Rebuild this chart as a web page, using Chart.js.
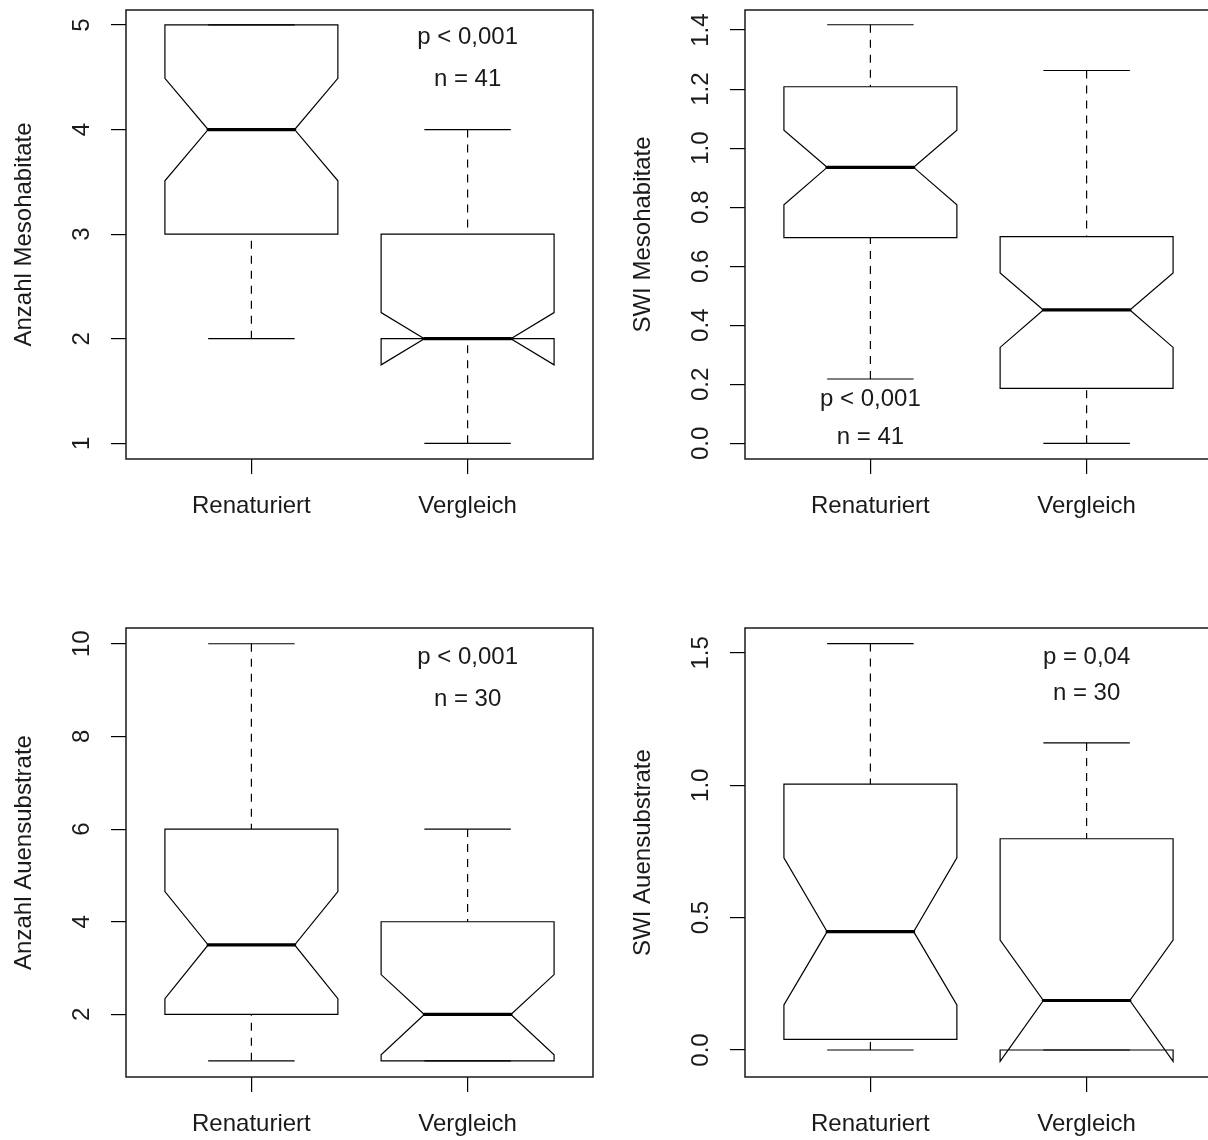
<!DOCTYPE html>
<html>
<head>
<meta charset="utf-8">
<title>Mesohabitate und Auensubstrate</title>
<script src="https://cdn.jsdelivr.net/npm/chart.js@4.4.1/dist/chart.umd.min.js"></script>
<style>
  html, body { margin: 0; padding: 0; background: #fff; width: 1208px; height: 1140px; overflow: hidden; }
  canvas.panel { position: absolute; }
</style>
</head>
<body>
<canvas id="meso-count" class="panel" width="604" height="570" style="left:0;top:0"></canvas>
<canvas id="meso-swi" class="panel" width="604" height="570" style="left:619px;top:0"></canvas>
<canvas id="substrate-count" class="panel" width="604" height="570" style="left:0;top:618px"></canvas>
<canvas id="substrate-swi" class="panel" width="604" height="570" style="left:619px;top:618px"></canvas>
<script>
// Groups on the x axis
const groups = ['Renaturiert', 'Vergleich'];

// Per group: [lower whisker, Q1, lower notch, median, upper notch, Q3, upper whisker]
const mesoCountRen = [2, 3, 3.51, 4, 4.49, 5, 5];
const mesoCountVgl = [1, 2, 1.75, 2, 2.25, 3, 4];
const mesoSwiRen = [0.218, 0.697, 0.808, 0.935, 1.061, 1.208, 1.418];
const mesoSwiVgl = [0, 0.186, 0.325, 0.452, 0.577, 0.700, 1.263];
const substrateCountRen = [1, 2, 2.34, 3.5, 4.65, 6, 10];
const substrateCountVgl = [1, 1, 1.13, 2, 2.86, 4, 6];
const substrateSwiRen = [0, 0.040, 0.170, 0.447, 0.726, 1.004, 1.535];
const substrateSwiVgl = [0, 0, -0.043, 0.187, 0.415, 0.798, 1.160];

// Y tick labels
const mesoCountTicks = ['1', '2', '3', '4', '5'];
const mesoSwiTicks = ['0.0', '0.2', '0.4', '0.6', '0.8', '1.0', '1.2', '1.4'];
const substrateCountTicks = ['2', '4', '6', '8', '10'];
const substrateSwiTicks = ['0.0', '0.5', '1.0', '1.5'];

// Axis titles and test results
const yTitles = ['Anzahl Mesohabitate', 'SWI Mesohabitate', 'Anzahl Auensubstrate', 'SWI Auensubstrate'];
const pLabels = ['p < 0,001', 'p < 0,001', 'p < 0,001', 'p = 0,04'];
const nLabels = ['n = 41', 'n = 41', 'n = 30', 'n = 30'];

// ---- styling / layout ----
const FONT_FAMILY = "'Liberation Sans', Arial, sans-serif";
const FONT_SIZE = 24;
const TEXT_COLOR = '#1a1a1a';
const LINE_COLOR = '#000';
const BOX_HALF = 0.4;      // half box width (x units)
const NOTCH_HALF = 0.2;    // half width at the notch waist
const STAPLE_HALF = 0.2;   // half whisker-cap width
const TICK_LEN = 15;

const panels = [
  { id: 'meso-count', stats: [mesoCountRen, mesoCountVgl], ticks: mesoCountTicks, yMin: 0.85, yMax: 5.143,
    title: yTitles[0], p: pLabels[0], n: nLabels[0], textX: 2, pY: 4.885, nY: 4.48 },
  { id: 'meso-swi', stats: [mesoSwiRen, mesoSwiVgl], ticks: mesoSwiTicks, yMin: -0.053, yMax: 1.468,
    title: yTitles[1], p: pLabels[1], n: nLabels[1], textX: 1, pY: 0.15, nY: 0.02 },
  { id: 'substrate-count', stats: [substrateCountRen, substrateCountVgl], ticks: substrateCountTicks, yMin: 0.65, yMax: 10.34,
    title: yTitles[2], p: pLabels[2], n: nLabels[2], textX: 2, pY: 9.7, nY: 8.8 },
  { id: 'substrate-swi', stats: [substrateSwiRen, substrateSwiVgl], ticks: substrateSwiTicks, yMin: -0.102, yMax: 1.594,
    title: yTitles[3], p: pLabels[3], n: nLabels[3], textX: 2, pY: 1.484, nY: 1.348 },
];

function seg(data, extra) {
  return Object.assign({
    data, showLine: true, pointRadius: 0, pointHoverRadius: 0, borderColor: LINE_COLOR,
    borderWidth: 1.2, fill: false, tension: 0, borderJoinStyle: 'miter', clip: false
  }, extra || {});
}

// Notched box plot pieces for each group, built from the summaries
function boxDatasets(stats) {
  const out = [];
  stats.forEach((s, i) => {
    const x = i + 1;
    const [wLo, q1, nLo, med, nHi, q3, wHi] = s;
    // dashed whiskers, drawn from the cap toward the box
    out.push(seg([{ x, y: wLo }, { x, y: q1 }], { borderDash: [8, 7] }));
    out.push(seg([{ x, y: wHi }, { x, y: q3 }], { borderDash: [8, 7] }));
    // whisker caps
    out.push(seg([{ x: x - STAPLE_HALF, y: wLo }, { x: x + STAPLE_HALF, y: wLo }]));
    out.push(seg([{ x: x - STAPLE_HALF, y: wHi }, { x: x + STAPLE_HALF, y: wHi }]));
    // notched outline
    out.push(seg([
      { x: x - BOX_HALF, y: q1 }, { x: x - BOX_HALF, y: nLo }, { x: x - NOTCH_HALF, y: med },
      { x: x - BOX_HALF, y: nHi }, { x: x - BOX_HALF, y: q3 }, { x: x + BOX_HALF, y: q3 },
      { x: x + BOX_HALF, y: nHi }, { x: x + NOTCH_HALF, y: med }, { x: x + BOX_HALF, y: nLo },
      { x: x + BOX_HALF, y: q1 }, { x: x - BOX_HALF, y: q1 }
    ], { borderCapStyle: 'square' }));
    // median
    out.push(seg([{ x: x - NOTCH_HALF, y: med }, { x: x + NOTCH_HALF, y: med }],
      { borderWidth: 3.2, borderCapStyle: 'round' }));
  });
  return out;
}

const frameAndText = {
  id: 'frameAndText',
  afterDraw(chart, args, opts) {
    const { ctx, chartArea: a, scales } = chart;
    ctx.save();
    ctx.strokeStyle = '#1a1a1a';
    ctx.lineWidth = 1.5;
    ctx.strokeRect(a.left, a.top, a.right - a.left, a.bottom - a.top);
    ctx.fillStyle = TEXT_COLOR;
    ctx.font = FONT_SIZE + 'px ' + FONT_FAMILY;
    ctx.textAlign = 'center';
    ctx.textBaseline = 'middle';
    const px = scales.x.getPixelForValue(opts.textX);
    ctx.fillText(opts.p, px, scales.y.getPixelForValue(opts.pY));
    ctx.fillText(opts.n, px, scales.y.getPixelForValue(opts.nY));
    ctx.restore();
  }
};

const measure = document.createElement('canvas').getContext('2d');
measure.font = FONT_SIZE + 'px ' + FONT_FAMILY;

panels.forEach(p => {
  const font = { family: FONT_FAMILY, size: FONT_SIZE, lineHeight: 1.2 };
  const widest = Math.max(...p.ticks.map(t => measure.measureText(t).width));
  const yPad = 43.5 - TICK_LEN - widest / 2;
  const gridOpts = {
    display: true, drawOnChartArea: false, drawTicks: true, tickLength: TICK_LEN,
    color: LINE_COLOR, tickColor: LINE_COLOR, lineWidth: 1.2, tickWidth: 1.2
  };
  new Chart(document.getElementById(p.id), {
    type: 'scatter',
    data: { datasets: boxDatasets(p.stats) },
    options: {
      responsive: false,
      animation: false,
      events: [],
      layout: { padding: { left: 0, top: 10, right: 11, bottom: 0 } },
      plugins: { legend: { display: false }, tooltip: { enabled: false }, frameAndText: p },
      scales: {
        x: {
          type: 'linear', min: 0.42, max: 2.58, bounds: 'data',
          afterBuildTicks: s => { s.ticks = groups.map((g, i) => ({ value: i + 1 })); },
          afterFit: s => { s.height = 111; s.paddingLeft = 0; s.paddingRight = 0; },
          ticks: { callback: (v, i) => groups[i], font, color: TEXT_COLOR, padding: 17.5,
                   autoSkip: false, minRotation: 0, maxRotation: 0 },
          grid: gridOpts,
          border: { display: false }
        },
        y: {
          type: 'linear', min: p.yMin, max: p.yMax, bounds: 'data',
          afterBuildTicks: s => { s.ticks = p.ticks.map(t => ({ value: parseFloat(t) })); },
          afterFit: s => { s.width = 126; s.paddingTop = 0; s.paddingBottom = 0; },
          ticks: { callback: (v, i) => p.ticks[i], font, color: TEXT_COLOR, padding: yPad,
                   autoSkip: false, minRotation: 90, maxRotation: 90, crossAlign: 'center' },
          grid: gridOpts,
          border: { display: false },
          title: { display: true, text: p.title, font, color: TEXT_COLOR, padding: { top: 9.5, bottom: 0 } }
        }
      }
    },
    plugins: [frameAndText]
  });
});
</script>
</body>
</html>
